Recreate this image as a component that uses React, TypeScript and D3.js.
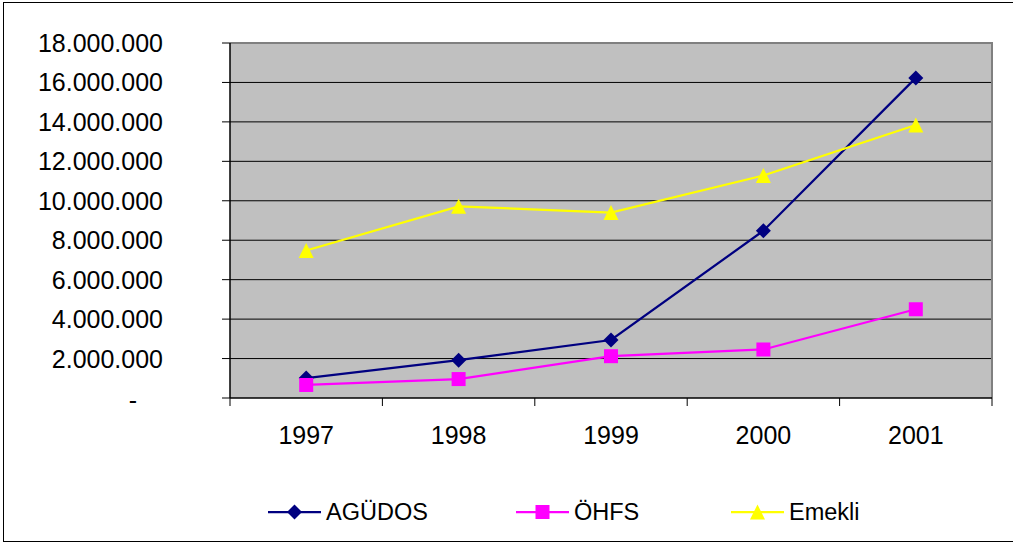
import * as d3 from "d3"

const years = ["1997", "1998", "1999", "2000", "2001"]
const agudos = [1010000, 1920000, 2940000, 8480000, 16230000]
const ohfs = [660000, 960000, 2120000, 2460000, 4500000]
const emekli = [7480000, 9720000, 9400000, 11280000, 13840000]
const yTicks = [0, 2000000, 4000000, 6000000, 8000000, 10000000, 12000000, 14000000, 16000000, 18000000]

type Series = { name: string; values: number[]; color: string; marker: "diamond" | "square" | "triangle" }

const series: Series[] = [
  { name: "AGÜDOS", values: agudos, color: "#000080", marker: "diamond" },
  { name: "ÖHFS", values: ohfs, color: "#FF00FF", marker: "square" },
  { name: "Emekli", values: emekli, color: "#FFFF00", marker: "triangle" },
]

const width = 1013
const height = 545
const plot = { left: 230, right: 992, top: 43, bottom: 398 }
const legendX = [268, 516, 731]
const legendY = 512
const font = "'Liberation Sans', Arial, sans-serif"

const formatTick = (v: number) => (v === 0 ? "-" : d3.format(",")(v).replace(/,/g, "."))

function Marker({ type, x, y, color }: { type: Series["marker"]; x: number; y: number; color: string }) {
  if (type === "square") {
    return <rect x={x - 7} y={y - 7} width={14} height={14} fill={color} />
  }
  if (type === "diamond") {
    return <path d={`M${x},${y - 7.5}L${x + 7.5},${y}L${x},${y + 7.5}L${x - 7.5},${y}Z`} fill={color} />
  }
  return <path d={`M${x},${y - 7.5}L${x + 7.5},${y + 7.5}L${x - 7.5},${y + 7.5}Z`} fill={color} />
}

export default function App() {
  const x = d3.scaleBand<string>().domain(years).range([plot.left, plot.right]).padding(0)
  const y = d3.scaleLinear().domain([0, 18000000]).range([plot.bottom, plot.top])
  const cx = (d: string) => (x(d) ?? 0) + x.bandwidth() / 2

  const line = (vals: number[]) =>
    d3
      .line<number>()
      .x((_, i) => cx(years[i]))
      .y((v) => y(v))(vals) ?? ""

  const bounds = [...years.map((d) => x(d) ?? 0), plot.right]

  return (
    <svg
      width={width}
      height={height}
      style={{ position: "absolute", left: 0, top: 0, background: "#fff" }}
      fontFamily={font}
    >
      <rect x={3.5} y={2.5} width={width + 4} height={539} fill="#fff" stroke="#000" strokeWidth={1} />

      <rect x={plot.left} y={plot.top} width={plot.right - plot.left} height={plot.bottom - plot.top} fill="#C0C0C0" />

      {yTicks.slice(1, -1).map((t) => (
        <line key={t} x1={plot.left} x2={plot.right} y1={y(t)} y2={y(t)} stroke="#000" strokeWidth={1} />
      ))}

      <path
        d={`M${plot.left},${plot.top}H${plot.right}V${plot.bottom}`}
        fill="none"
        stroke="#808080"
        strokeWidth={2}
      />

      <line x1={plot.left} x2={plot.left} y1={plot.top} y2={plot.bottom} stroke="#000" strokeWidth={1.5} />
      <line x1={plot.left} x2={plot.right} y1={plot.bottom} y2={plot.bottom} stroke="#000" strokeWidth={1.5} />

      {yTicks.map((t) => (
        <g key={t}>
          <line x1={plot.left - 8} x2={plot.left} y1={y(t)} y2={y(t)} stroke="#000" strokeWidth={1} />
          <text
            x={t === 0 ? 137 : 163}
            y={y(t) + (t === 0 ? 2 : 0)}
            textAnchor="end"
            dominantBaseline="central"
            fontSize={25}
            fill="#000"
          >
            {formatTick(t)}
          </text>
        </g>
      ))}

      {bounds.map((b, i) => (
        <line key={i} x1={b} x2={b} y1={plot.bottom} y2={plot.bottom + 8} stroke="#000" strokeWidth={1} />
      ))}

      {years.map((d) => (
        <text key={d} x={cx(d)} y={434.5} textAnchor="middle" dominantBaseline="central" fontSize={25} fill="#000">
          {d}
        </text>
      ))}

      {series.map((s) => (
        <g key={s.name}>
          <path d={line(s.values)} fill="none" stroke={s.color} strokeWidth={2.25} />
          {s.values.map((v, i) => (
            <Marker key={i} type={s.marker} x={cx(years[i])} y={y(v)} color={s.color} />
          ))}
        </g>
      ))}

      {series.map((s, i) => (
        <g key={s.name} transform={`translate(${legendX[i]},${legendY})`}>
          <line x1={0} x2={53} y1={0} y2={0} stroke={s.color} strokeWidth={2.25} />
          <Marker type={s.marker} x={26.5} y={0} color={s.color} />
          <text x={58} y={0} dominantBaseline="central" fontSize={23.5} fill="#000">
            {s.name}
          </text>
        </g>
      ))}
    </svg>
  )
}
